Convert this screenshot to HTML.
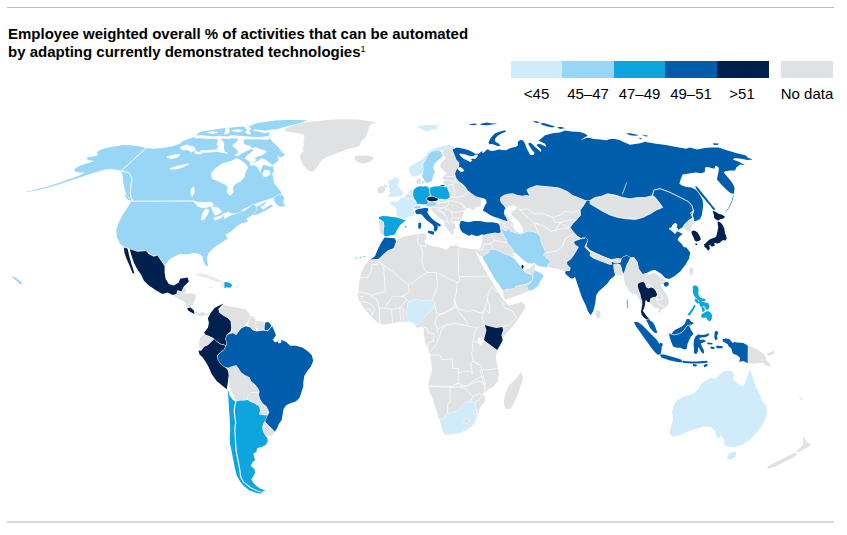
<!DOCTYPE html>
<html lang="en"><head><meta charset="utf-8"><title>Automation potential by country</title>
<style>
html,body{margin:0;padding:0;background:#fff;}
body{width:847px;height:535px;position:relative;overflow:hidden;font-family:"Liberation Sans",Arial,sans-serif;color:#000;}
.rule{position:absolute;left:7px;width:827px;}
#top{top:7px;height:1px;background:#bbbcbf;}
#bot{top:521px;height:2px;background:#d6d7d9;}
h1{position:absolute;left:8px;top:24.6px;margin:0;font-size:15px;line-height:18px;font-weight:bold;letter-spacing:0px;white-space:nowrap;}
h1 sup{font-size:9px;line-height:0;vertical-align:5.5px;font-weight:normal;}
.legend{position:absolute;top:61px;left:511px;height:17px;}
.legend i{position:absolute;top:0;height:16.5px;display:block;}
.lab{position:absolute;top:84.5px;font-size:15px;line-height:17px;white-space:nowrap;transform:translateX(-50%);}
svg{position:absolute;left:0;top:0;}
svg path{stroke:#fff;stroke-width:0.9;stroke-linejoin:round;paint-order:stroke;}
.c1{fill:#d0ebfa}.c2{fill:#99d6f5}.c3{fill:#0ea5de}.c4{fill:#005dab}.c5{fill:#00204e}.nd{fill:#e0e1e3}.nd2{fill:#eaebed}.w{fill:#fff}svg path.line{fill:none;stroke:#fff;stroke-width:0.7;stroke-linejoin:round;stroke-linecap:round}
</style></head><body>
<div class="rule" id="top"></div>
<h1>Employee weighted overall % of activities that can be automated<br>by adapting currently demonstrated technologies<sup>1</sup></h1>
<div class="legend">
<i style="left:0;width:51.4px;background:#d0ebfa"></i><i style="left:51.4px;width:51.6px;background:#99d6f5"></i><i style="left:103px;width:51.2px;background:#0ea5de"></i><i style="left:154.2px;width:51.8px;background:#005dab"></i><i style="left:206px;width:51.5px;background:#00204e"></i><i style="left:270px;width:52px;background:#e0e1e3"></i>
</div>
<span class="lab" style="left:536.5px">&lt;45</span><span class="lab" style="left:588px">45&ndash;47</span><span class="lab" style="left:639.5px">47&ndash;49</span><span class="lab" style="left:691px">49&ndash;51</span><span class="lab" style="left:742px">&gt;51</span><span class="lab" style="left:807px">No data</span>
<svg width="847" height="535" viewBox="0 0 847 535">
<path id="m-centralam" class="nd" d="M173.8 295.1L177.6 290.1L181.3 291.4L183.8 287.1L186.4 288.9L185.1 293.9L191.4 293.1L196.4 295.1L195.1 300.1L192.6 305.1L190.1 307.6L186.4 306.4L183.8 301.4L178.8 298.9L175.1 297.1Z"/>
<path id="m-panama" class="nd" d="M194.6 311.4L198.9 313.1L202.6 312.1L206.4 313.9L208.9 312.6L208.1 315.1L203.9 315.6L200.1 316.4L196.4 315.1Z"/>
<path id="m-cuba" class="nd2" d="M195.1 274.6L200.1 273.1L207.6 274.6L213.9 277.6L220.1 280.1L222.6 282.1L217.6 282.1L211.4 280.1L205.1 277.6L198.9 276.3Z"/>
<path id="m-haiti" class="nd2" d="M220.5 282.7L222.3 284.6L220 286.5L220 286.7L224.8 287.3L224.8 282L220.6 282.4L220.5 282.5Z"/>
<path id="m-puertorico" class="nd2" d="M235.2 286.1L238.9 286.1L238.9 287.6L235.2 287.6Z"/>
<path id="m-jamaica" class="nd2" d="M208.9 286.9L212.6 287.1L212.6 288.4L209.1 288.1Z"/>
<path id="m-venezuela" class="nd" d="M223.6 305.1L227.8 306.1L232.5 307L239.1 307.9L244.8 308.9L247.6 311.7L250.4 315.5L249.5 319.3L246.7 323.1L244.8 325.9L241 327.8L239.1 330.6L236.3 334.4L232.5 332.5L231.2 327.8L230.6 321.2L227.8 318.3L223.1 315.5L219.3 312.7L220.2 308.9Z"/>
<path id="m-guyana" class="nd" d="M250.4 315.5L253.3 316.4L256.1 320.2L255.2 324L257.1 327.8L255.2 330.6L252.3 329.7L250.4 326.8L247.6 324L249.5 319.3Z"/>
<path id="m-suriname" class="nd" d="M256.1 321.2L260.8 321.2L264.6 322.1L264 326.8L262.7 330L258.9 330.6L257.1 327.8L255.2 324Z"/>
<path id="m-ecuador" class="nd" d="M200.4 337.2L204.2 334.4L209.8 336.3L213.6 338.7L210.8 341.9L207.9 344.8L204.2 346.7L201.3 350.4L199.4 347.6L199.1 341.9Z"/>
<path id="m-bolivia" class="nd" d="M228.7 367.8L232.5 365.9L236.3 365.2L238.7 368.4L241 372.2L244.8 375L249.5 377.3L251.4 381.6L255.2 384.4L258 388.2L258.9 392.9L254.2 392.4L250.4 392.9L248.2 395.8L247.6 399.6L243.8 400.5L240.1 400.5L236.3 401.4L234.4 397.7L232.5 392.9L230.6 388.2L229.3 382.6L228.7 375L227.8 370.3Z"/>
<path id="m-paraguay" class="nd" d="M248.2 395.8L250.4 392.9L254.2 392.4L258.9 393.5L260.3 399.6L262.7 403.3L266.5 406.2L268.4 409.9L269 412.8L267.1 415L262.7 414.7L258.9 414.3L260.3 409.9L258.9 406.2L255.2 403.3L250.4 401.4L247.6 399.6Z"/>
<path id="m-uruguay" class="nd" d="M264.6 422.2L269.3 426L273.1 429.8L274.1 432.6L272.2 435.4L268.4 435.8L264.6 434.5L262.7 430.7L262.3 426Z"/>
<path id="m-africa" class="nd" d="M386.3 237.5L393.8 238L396.3 240.5L405.1 236.3L415.1 234.5L421.3 233.8L425.1 233L426.6 237.5L424.1 241.3L426.6 244L432.6 246.3L440.1 247.5L446.4 250L450.1 246.3L456.4 245.5L460.1 247.5L465.1 248L472.7 249.5L480.2 248.8L477.5 249.8L476.3 253.8L479 258.8L481.5 263.8L484 268.2L486.4 272.5L488.9 276.9L491.4 280.7L493.9 285.1L495.9 288.8L498.4 292.6L501 296.3L503.3 299.5L508.9 305.6L515.2 303.8L521.5 302.1L525.7 305.1L524 310.1L520.7 315.1L516.5 321.4L510.2 328.9L503.9 336.4L501.4 342.6L498.2 349.6L496.4 353.8L495.9 357.5L496.4 361.3L498.1 368.8L498.9 375L497.6 381.3L493.9 386.3L487.6 390.1L483.8 393.8L485.1 397.6L484.6 402.6L481.3 405.6L479.6 408.8L478.1 415.1L475.1 421.3L471.3 426.4L466.3 430.1L460.1 433.1L452.6 433.9L445.1 435.1L442.6 431.4L441.3 426.4L439.5 419.6L437.5 413.8L435 406.3L432.5 398.8L429.5 391.3L428 385.1L430 377.5L432 370L431.3 362.5L430 353.8L427.5 347.5L425 341.3L425.1 340.1L423.8 333.9L423.8 328.1L420.6 326.4L417.6 328.1L414.6 325.6L412.1 322.6L405.1 321.4L397.6 322.1L390.1 323.9L381.3 324.6L376.3 321.4L371.3 316.4L366.3 311.3L362.5 306.3L359.5 301.3L357.5 296.3L358.8 288.8L359.5 280.1L361.3 272.6L365 265L370 259.5L375 256.3L377.5 250L381.3 242.5Z"/>
<path id="m-madagascar" class="nd" d="M521.2 372.3L518.7 374.9L514.9 379.9L509.9 384.8L507.3 388.7L504.8 396.2L503.6 403.8L506.1 409L506.4 409.1L510.1 409.1L510.4 409L514.2 402.7L517.9 393.9L522.9 378.9L521.7 372.5L521.6 372.3Z"/>
<path id="m-easteurope" class="nd" d="M442.8 150L446.3 147.5L449.5 147.5L453.2 146L455.1 151.3L460.1 161.3L460.1 171.3L467.6 182.6L477.6 197L467 186.3L468.2 191.3L473.9 195L480.9 197.5L480.9 206.5L475.1 207.3L473.9 210L470.1 210.3L469.1 208.2L467 207.8L464.5 210.7L463.2 213.8L462.6 217.5L461.4 220.8L458.2 221.3L455.1 220.7L453.2 222.6L455.1 225.1L456.3 229.4L455.1 228.2L453.2 230.1L454.1 233.2L452 234.7L450.1 232.6L447.6 229.4L445.1 226.3L444.5 223.2L443.2 220.7L440.1 218.2L436.3 215L433.2 211.9L431.3 209.4L430.1 206.9L427.6 205.7L427.6 198.8L433.8 197.5L445.1 195L445.1 185L443.2 182.5L443.2 185.1L442.8 182.6L443.8 180.1L442.8 177.6L445.1 175.1L446.6 173.2L443.8 170.7L441.3 168.8L440.1 166.3L440.7 163.2L443.2 160.7L445.7 158.2L444.4 155.7L442.8 153.2Z"/>
<path id="m-crete" class="nd" d="M455.1 236.9L458.2 236.6L458.6 237.3L455.3 237.7Z"/>
<path id="m-cyprus" class="nd" d="M471.4 237.8L473.9 236.9L474.1 237.8L472 238.6Z"/>
<path id="m-denmark" class="nd" d="M416.6 179.4L416.2 182.5L416.3 182.8L418.2 184.8L418.6 184.8L420.6 183.2L421.2 180.1L421.2 179.9L419.5 177.9L416.8 179.2ZM421.6 181.4L422 183.6L422.1 183.8L422.3 183.9L424.8 183.4L424.7 181L424.6 180.8L424.4 180.8L421.9 181L421.7 181.1Z"/>
<path id="m-ireland" class="nd" d="M377.8 187.5L377.5 191.9L377.6 192.1L379.8 193.8L380.1 193.8L383.2 192.8L385.3 190.2L385.3 190L384.7 186.8L384.4 186.6L381.1 186L378 187.2Z"/>
<path id="m-belgium" class="nd" d="M406 194.5L409.4 193.8L412.5 195L413.2 197.5L413.2 198.8L410.7 199L406.3 198.5L405 196.3Z"/>
<path id="m-portugal" class="nd" d="M378.8 220.7L381.3 220.3L383.8 222.3L384.1 225.7L383.5 230.1L383.3 234.1L380.6 234.1L379.8 230.1L379.4 225.1Z"/>
<path id="m-mongolia" class="nd" d="M590.1 200.5L595.1 197.5L601.4 196.3L607.6 193.8L615.1 195L622.7 197.5L630.2 198.8L637.7 197.5L645.2 197.5L652.7 195.5L656.4 198.8L660.2 203.8L662.7 207.5L656.4 210L650.2 213.8L642.7 217.5L635.2 219.5L626.4 218.8L617.7 217.5L610.1 215L602.6 211.3L596.4 207.5L590.1 203.8Z"/>
<path id="m-srilanka" class="nd" d="M596.1 310.1L595.8 315.1L597.9 319L598.1 319.2L598.3 319.1L600.8 316.6L600.9 316.3L599.9 311.3L599.7 311.1L596.5 309.9L596.2 309.9Z"/>
<path id="m-png" class="nd" d="M747.2 345.7L747.2 362.7L747.3 362.9L747.5 363L750.9 363L754.6 364L758.5 363L762.1 363L766.8 365.8L770.9 366.8L771 366.6L771 366.4L769.1 362.6L766.3 359.7L765.3 355.9L762.4 353.1L758.6 350.2L752.9 347.3L747.6 345.4L747.3 345.5ZM766.7 353.7L768.7 355.4L769 355.4L774.6 353.2L774.8 353L774.8 352.7L773.8 351.2L773.5 351.1L766.9 353.4Z"/>
<path id="m-nz" class="nd" d="M803.4 436.2L803.4 440.6L803 445L796.8 450.9L798 452.8L804.7 448.4L808.4 447.3L810.7 444L810.6 443.8L806.9 442.7L805.4 439.4L803.6 436.1ZM794.6 452.6L791.3 454.4L772.6 463.7L767 467L767 467.1L768.2 468.7L773.7 467.2L787 460.5L792.5 458.3L797.4 454.5Z"/>
<path id="m-newcal" class="nd2" d="M798.6 395.3L802.4 398.6L803.5 400.8L800.2 399.3Z"/>
<path id="m-centralasia-mideast" class="nd" d="M545.9 181.3L535.1 184.4L527.6 186.9L525.1 190L527.6 193.8L521.3 194.4L512.6 191.9L505.1 193.2L500.1 196.3L498.8 200L500.7 203.8L502.6 206.3L498.8 212.6L495.1 215.7L496.3 218.8L498.2 220L499.4 221.9L492.5 227.5L484.4 234.8L482.5 235L482.5 240L481.5 245L479.8 248.5L477.8 249.8L476.9 251.9L479.4 255L482.5 257.3L484.4 260.7L486.9 265L489.4 269.4L491.9 273.8L494.4 278.2L496.9 281.9L499.4 285.1L501.3 288.2L503.5 290.7L503.2 293.8L504 297.6L505.7 300.1L510 298.2L515.1 296.3L520.1 294.4L525.1 292.6L528.6 290.7L531.9 290.1L535.1 288.2L538.2 285.7L539.5 282.6L541.3 279.4L543.6 276.3L542.6 274.4L539.5 272.5L536.3 271.3L534.5 270L535.1 266.3L534.5 264L532.6 266L530.1 267.8L526.9 269.4L525.1 271.3L523.8 271.3L523.6 268.5L523.2 266.3L521.9 265L520.1 265.7L519.4 265L516.9 261.9L514.4 258.8L512.6 256.5L513.2 253.8L515.1 253.1L518.2 255L521.3 258.2L524.4 260.7L528.2 263.2L532.6 263.5L534.5 262.3L536.3 265L540.1 266.3L543.8 266.9L547 267.3L550.1 267.6L557.6 268.8L565.1 271.4L575.1 267.6L590.1 247.6L590.1 200.5L586.4 197.5L578.9 195L572.6 192.5L567.6 188.8L558.8 185L547.6 183.7L533.8 182.5Z"/>
<path id="m-seasia-grey" class="nd" d="M590.1 251.3L601.4 253.8L612.6 257.6L626.4 254.6L633.9 256.3L640.2 260.1L647.7 267.6L648.2 274.5L651.3 273.5L654.4 273L656.9 274.3L659.4 276L661.9 278L665 279.3L666.3 280.8L663.8 282L662.5 284.5L660.7 283.9L661.3 287L663.8 290.2L666.3 293.9L668.2 297.7L668.8 302L667.6 305.8L664.4 308.3L661.3 310.2L659.4 313.3L658.2 312.1L658.8 308.9L656.9 307.7L655 308.3L652.5 305.8L650.7 303.3L649.4 302L645 300.8L642.5 304.6L641.9 305.2L640.6 303.3L639.4 299.5L637.5 295.8L634.4 293.9L631.3 293.3L628.8 290.8L626.9 287L625 284.5L623.2 273.9L620.2 275.6L615.1 271.4L610.1 262.6L600.1 260.1L591.4 257.6Z"/>
<path id="m-taiwan" class="nd" d="M689.4 269.5L689.7 273.5L691 275.4L691.2 275.5L691.5 275.5L691.7 275.3L693 272.7L693.2 268.9L693.1 268.6L691.6 267.3L691.3 267.2L691 267.4L689.5 269.3Z"/>
<path id="m-etimor" class="nd" d="M707.7 363.1L712.1 361.6L712.3 362.6L708.3 364.1Z"/>
<path id="m-greenland" class="nd" d="M283.8 129.5L288.8 127.6L295 125.1L302.5 123.3L311.3 121.8L320.1 120.8L330.1 119.8L340.1 119.3L350.1 119.3L360.1 119.8L367.6 120.8L375.9 122.6L370.1 124.5L368.9 128.3L367.6 132L366.4 135.8L363.9 138.9L360.7 142L360.1 145.2L356.4 147L351.3 148.3L346.3 149.5L341.3 151.4L336.3 153.3L331.3 155.2L326.3 157.1L322.6 159.6L319.4 163.3L316.9 167.1L314.4 170.2L311.9 171.8L308.8 170.8L305.7 168.3L303.2 165.2L301.3 161.4L300 157.1L301 153.3L303.8 150.8L302.5 148.3L304.4 145.2L303.2 142L304.4 138.3L303.8 135.2L300 133.3L293.8 132.6L287.5 132Z"/>
<path id="m-iceland" class="nd" d="M354.2 157.2L355.6 160.4L358.8 162.4L363.2 163.4L367.7 162.4L372.1 160.5L373.5 157.8L373.5 157.6L373.4 157.4L368.8 155.5L362.6 156.1L357.6 155.5L354.4 156.8L354.2 156.9Z"/>
<path id="m-afrbordersn" class="line" d="M378.3 260.7L378.3 264.2L372.1 264.8L371.3 271.3L367.7 277.5L358.9 278M379.2 261.6L383.6 267.2L385.4 291.7L371.3 295.2M379.2 261.6L394.3 273.1L408.4 284.6L412 282.8L420.8 276.6L427 272.5M418.2 235L417.3 242.1L420.8 245.6L422.6 252.7L421.7 259.8L423.5 267.8L427 272.5M420.8 245.6L425.3 247L425.8 243M427 272.5L436.2 272.5L457.1 282.5M458 248.3L458.9 276.6M457.1 282.5L459.4 281.4L459.4 276.6L488.1 276.1M436.2 272.5L437.7 286.4L434.7 294.3L431.8 300.2M408.4 284.6L409.3 291.7L403.1 296.1L399.6 297L397.8 296.1L391.6 297L389.8 300.5L387.2 304.1M403.1 296.1L406.7 299.6L408.4 301.9M457.1 282.5L456.3 293.4L454.5 298.8L456.3 305.8L459.8 309.4M434.7 305L436.8 313.8L443.9 313.8L451.8 309.4L456.3 305.8M459.8 309.4L466.9 311.5L474 310.3L481.1 313.3L485.5 309.4L489 312.9M488.1 295.2L489.9 289.9L491.7 287.2L496.1 291.7L499.8 293.4M489 312.9L489.9 305.8L487.2 300.5L488.1 295.2M358.9 291.7L369.5 294.3L371.3 296.1M359.7 296.1L363.3 297L360.6 299.1M360.6 301.4L367.7 302.3L373 305.8L374.8 309.4L372.1 314.7M366.8 309.4L369.5 308.5L372.1 314.7M371.3 296.1L376.6 298.8L379.2 307.6L380.1 323.5M379.2 307.6L385.4 308.5L391.6 309.4L400.5 307.6L406.7 299.6M391.6 309.4L392.5 322.7M399.9 307.6L400.5 320M403.1 307.6L403.5 319.7M385.4 308.5L387.2 304.1"/>
<path id="m-afrbordersc" class="line" d="M454.5 300L453.6 307.1L448.3 310.3L442.1 313.8L436.3 316.8L435.1 323L437.7 329.2L436.8 331.9M437.7 329.2L446.2 324.8L455.4 323.4L464.3 325.1L473.1 326.9L476.7 328L484.6 324.8M454.5 300L457.5 309.7L463.4 317.7L467.8 323.9M484.6 324.8L482 317.7L483.8 310.6L486.4 303.5L488.2 300M501.5 326.9L508.5 324.8L516.5 317.7L512.1 310.6L505 308L502.3 305.3L503.2 301.8M476.7 328L474 335.4L473.1 341.6L478.4 342.5M472.2 342.5L473.1 351.4L471.4 353.1L473.1 360.2L476.7 363.8L480.2 364.6M485.2 341.1L481.1 342.5M481.1 370L490.8 369.4L498.8 368.2M446.6 324.8L441.6 329.2L439.8 336.3L435.9 345.2L431 351L428.9 353.1M421.8 326.6L427.1 328.3L428 332.8L434.2 333.6L433.3 341.6L428.9 342.5L428 347.8M429.7 354.9L439.5 354.9L442.1 359.7L451.9 358.8L452.9 368.5L458.3 368.5L458.3 373L463.4 371.7L470.1 370.8L472.4 374L471.4 368.2L470.3 363L473.1 361.1L479.3 364.6M458.3 373L458.1 383.2L452.8 385.4M428 385.9L452.8 386.4L458.1 383.2L466 387.1L473.1 381.5L478.4 377.9L481.6 376.5M481.1 366.4L482.9 374.4L485.5 383.2L483.8 385.4L482 377.9L480.2 370.8"/>
<path id="m-afrborderss" class="line" d="M428 386.3L453.8 387.6L460.1 386.3L470.1 385.1M450.1 388.1L450.1 402.6L447.6 403.8L447.6 413.8M460.1 387.1L465.6 388.8L472.6 396.3L470.6 401.3M472.6 396.3L480.1 393.8L483.8 393.8M475.1 402.6L480.1 398.8L483.8 393.8M470.6 385.1L475.1 382.6L480.1 381.3L485.1 383.8L484.1 393.8"/>
<path id="m-eurborders" class="line" d="M449.8 196.9L455.1 197.5L462.6 196.3L468.2 191.9M437.6 200.6L440.1 202.5L445.1 202.3L448.8 200.6L455.1 201.3L461.4 203.8L465.1 206.9M448.8 201.3L447.6 205.7L444.5 207.5L440.1 208.2L436.3 207.3L430.7 206.8M436.9 203.5L440.1 202.8L445.1 202.5M451.3 211.9L456.3 212.3L462.6 211.3L464.5 210.7M452.6 217.5L456.3 218.2L460.1 217.5L461.4 220.8M448.2 209.4L451.3 211.9L452 215L452.6 217.5L450.7 220L453.2 222.6M436.3 210L440.1 211.3L443.8 212.5L445.1 215.7L447 217.5L447.6 221.3L450.1 223.2L453.2 222.6M444.5 207.5L446.3 210L448.2 209.4M440.1 208.2L439.5 210.7L443.2 213.2L445.1 215.7M443.2 220.7L445.7 221.3L447.6 221.3M461.4 203.8L463.2 205.7L464.5 208.2M446.3 176.1L451.3 176.6L455.3 175.7M443.2 180.3L448.8 180.7L453.2 181.3L455.7 179.8M448.2 185.1L452.6 184.4L455.1 181.9L458.8 181.9M452.6 184.4L453.2 188.8L455.1 192.6L454.5 197"/>
<path id="m-asiaborders" class="line" d="M505 208.8L513.8 205L520 210L527.5 208.8L533.8 213.8L543.8 213.8L552.6 217.5L560.1 215L565.1 211.3L573.8 212.5L580.1 210M520 210L533.8 222.5L543.8 226.3L551.3 231.3L555.6 230.1L560.1 222.5L570.1 220L576.4 220M551.3 231.3L562.6 228.8L570.1 227.6L575.1 232.6L565.1 238.8L562.6 246.3L557.6 250.6L547.1 252.6M560.1 222.5L565.1 226.3L570.1 227.6M552.6 217.5L555.6 222.5L560.1 222.5M533.8 222.5L538.8 233.8M499.4 221.9L503.2 223.5L507.6 221.9L509.1 220M503.2 223.5L504.4 226.3L508.8 227.8M507.6 221.9L510.1 224.4L513.8 226M491.3 235L495 240L490.6 243.8L483.8 244.4L481.9 242.5M490.6 243.8L493.8 249.4M483.8 244.4L482.5 249.4L477.8 249.8M495 240L501.3 241.9L507.5 242.8M643.8 282L646.3 285.8L650 284.5L653.8 288.9M653.8 288.9L657.5 290.8L661.3 294.5L662.5 298.3L660.7 299.5L656.9 299.5L655.7 296.4M656.9 299.5L658.8 304.6L662.5 305.8L664.4 308.3M626.4 266.3L630.2 260.1L633.9 257.6"/>
<path id="m-alaska" class="c2" d="M146.4 148L138.9 146.3L130.2 145.3L122.6 145L113.9 146.5L106.4 148L99.6 150L96.6 152.6L98.1 155.1L93.1 156.6L86.6 157.6L87.6 160.1L94.6 161.1L86.4 163.6L80.6 165.6L75.1 168.6L74.3 171.6L79.6 172.6L85.1 172.6L79.6 175.6L72.6 177.8L60.1 182.6L47.6 186.6L35 189.8L21.3 192.8L35 190.8L47.6 187.8L60.1 184.1L72.6 179.8L82.6 176.6L91.4 173.6L98.9 171.3L105.1 169.6L111.4 169.1L117.6 170.1L121.4 170.8L122.6 175.6L123.4 182.6L124.6 189.6L127.1 196.4L130.7 201.9L132.7 200.6L130.2 193.8L131.2 185.1L131.9 177.6L128.9 172.6L123.9 171.3L121.6 170.6Z"/>
<path id="m-canada" class="c2" d="M146 148L155 148.8L165 147.5L172.5 146.3L180 143.8L182.6 141.3L188.8 138.8L196.3 136.3L198.1 133.1L202.5 131.3L207.5 130.6L212.5 130L217.5 129L225 127.9L232.5 127.5L236.3 126.9L241.3 126.5L245.1 126.9L250.1 126.3L252.6 124.8L257.6 123.1L265.1 121.9L275.1 120.6L285.1 120L295.1 120L302.6 120.1L308.3 120.8L303.9 121.8L300.9 122.8L295.1 124.4L290.1 125.6L282.6 127.5L275.1 129.8L270.1 131.9L268.8 134.4L270.1 138.2L272.6 141.9L277.6 146.3L281.4 151.3L285.1 155L281.4 157.6L277.6 156.3L278.8 160.1L275.1 163.2L272.6 165.1L273.2 167.6L273.8 171.3L272.2 173.8L273.2 178.8L274.2 183.8L277.7 187.6L281.4 192.6L280.2 196.4L275.2 196.9L267.7 199.4L260.1 201.9L252.6 205.1L247.6 206.9L241.4 210.1L243.9 211.1L250.1 208.9L257.6 206.4L262.6 203.4L267.1 201.6L263.9 205.1L260.1 207.1L263.1 209.6L267.7 206.4L270.7 204.6L273.2 206.1L266.4 210.1L258.9 213.9L253.1 215.6L254.1 212.1L250.1 213.1L247.6 213.6L246.4 210.1L242.6 212.1L238.9 213.1L232.6 213.6L228.9 213.1L225.1 215.1L221.3 217.6L215.1 220.1L214.1 216.4L212.6 211.4L211.3 206.4L212.6 203.1L205.1 202.6L198.8 203.1L193.8 201.4L140 200.9L132.2 201.4L130.2 193.8L131.2 185.1L131.9 177.6L128.9 172.6L123.9 171.3L121.6 170.6Z"/>
<path id="m-newfoundland" class="c2" d="M273.6 198.2L274.4 201.4L276.2 204.1L280.2 206.7L284.7 205.9L284.9 205.7L284.9 205.5L283 202.1L284.2 197.7L284.2 197.4L281.6 194.4L281.3 194.3L277.5 195.4L273.7 197.9Z"/>
<path id="m-vancouver-i" class="c2" d="M124.6 193.8L127.7 196.4L130.7 200.6L128.2 200.1L125.6 197.1Z"/>
<path id="m-usa" class="c2" d="M131.3 201.3L193.9 201.3L196.4 202L205.1 202.5L212.6 204.5L217.6 206.3L220.1 210L222.6 215L225.1 218.8L228.9 216.3L236.4 213.5L243.9 211L248.9 208L252.7 204L256.4 206.5L255.7 212L250.7 216L246.4 218.8L248.2 221.5L240.7 223.8L236.7 226.5L232.7 230L229.2 232.5L225.6 235L227.7 238.8L223.1 241.6L217.6 245.1L212.6 248.8L209.1 252.6L206.6 257.6L207.6 262.6L208.1 266.6L205.4 265.3L203.1 260.6L202.6 256.3L198.9 253.8L192.6 253.1L186.4 254.6L180.1 253.8L175.1 256.3L170.1 258.8L166.1 263.8L164.6 265.6L161.3 260.6L157.6 255.1L153.8 256.3L148.8 253.8L146.3 250.6L137.5 251.3L123.8 247.1L120 243.8L117 237.6L116.3 230L118.8 222.5L122.5 215L127.5 207.5Z"/>
<path id="m-hawaii" class="c2" d="M11.8 276L14.4 279.2L17.9 281.7L19.9 284.2L20.1 284.2L22.2 283.7L22.2 283.4L20.7 281.4L18.1 279.4L15.1 277.4L12.1 275.9Z"/>
<path id="m-mexico" class="c5" d="M129.5 248.3L137.5 251.3L146.3 250.6L148.8 253.8L153.8 256.3L157.6 255.1L161.3 260.6L164.6 265.6L164.6 272.6L165.6 278.8L168.8 283.9L173.8 285.6L178.8 282.6L180.1 278.8L187.6 277.6L188.9 281.4L183.8 286.4L181.3 291.4L177.6 290.1L176.3 293.9L172.6 295.1L167.6 292.6L162.6 293.9L156.3 290.6L148.8 285.6L143.8 280.6L141.3 275.1L137 268.8L133.8 262.6L131.3 255.1L129.5 248.3ZM123.8 247.1L127.5 248.3L129 255.1L131 262.6L133 268.8L134.5 273.8L132.5 273.1L129.5 265.6L126.5 258.8L124.5 253.1Z"/>
<path id="m-costarica" class="c5" d="M187.1 308.1L190.6 307.6L193.9 310.6L194.6 313.9L191.4 312.6L188.1 310.6Z"/>
<path id="m-domrep" class="c3" d="M224.4 282.1L224.4 288.1L224.6 288.3L226.4 287.3L230.1 287.8L230.3 287.7L232.3 285.2L232.3 284.9L228.9 282.4L224.7 281.9Z"/>
<path id="m-colombia" class="c5" d="M223.6 303.6L221.2 306.1L218.3 308.9L219.3 312.7L223.1 315.5L227.8 318.3L230.6 321.2L231.2 327.8L230.6 331.6L226.8 334.4L225.5 339.1L226.8 342.9L225.9 345.7L224 344.8L220.2 343.8L216.4 341L213.6 338.2L209.8 336.3L205.1 334.4L204.2 332.5L207.9 327.8L208.9 323.1L207.9 318.3L210.8 312.7L214.6 307.9L218.3 306.1Z"/>
<path id="m-frguiana" class="c4" d="M265.2 322.5L268.4 322.1L271.2 324.9L270.3 327.8L267.4 330.6L264.6 330L264.6 326.8Z"/>
<path id="m-peru" class="c5" d="M198.5 350.4L201.3 350.8L204.2 346.7L207.9 345.2L211.2 341.9L214.2 339.1L216.4 341.4L220.2 344.2L224.4 345.2L225.9 346.3L224 349.5L220.2 352.3L217.4 355.2L218 359.9L221.2 363.7L224.9 366.5L227.8 370.3L228.7 375L227.8 382.6L226.8 389.2L222.1 385.4L216.4 380.7L211.7 374.1L207.9 365.6L203.2 358L199.4 354.2Z"/>
<path id="m-brazil" class="c4" d="M226.8 335.3L232.5 333.1L236.3 335L239.5 330.6L241.4 328.2L245.7 326.3L250.4 327.4L252.3 330L255.5 331.2L258.9 331.2L263.7 330.6L267.8 331.2L270.9 327.8L272.2 325.9L274.1 330.6L276 335.3L273.1 339.5L276 341.4L280.7 339.5L286.3 341.9L290.1 345.7L295.8 345.7L302.4 347.6L308.1 351.4L311.8 355.2L313.2 360.8L310.9 366.5L307.1 371.2L304.3 376L303.3 382.6L303.3 386.3L301.5 392L299.6 397.7L295.8 401.4L290.1 403.3L286.3 405.2L283.5 409L282.6 414.7L281.6 420.3L278.8 424.1L276.9 428.8L274.6 431.7L273.1 429.8L269.3 426L265.6 422.2L264.6 419.4L267.4 415.6L269.3 412.8L268.4 409.9L266.5 406.2L262.7 403.3L260.3 399.6L258.9 394.8L259.5 391.1L258 388.2L255.2 384.4L251.4 381.6L249.5 377.3L244.8 375L241 372.2L238.7 368.4L236.3 365.2L232.5 365.9L228.7 367.8L224.9 367.1L221.2 364L218.3 360.3L217.8 355.7L220.2 352.7L224 350.1L225.9 346.7L227 343.3L225.9 339.5Z"/>
<path id="m-argentina" class="c3" d="M236.3 401.4L240.1 400.5L243.8 400.5L247.6 399.9L250.4 401.8L255.2 403.7L258.9 406.5L260.3 410.3L258.9 414.3L262.7 415L267.1 415.4L265.6 419.4L264 422.2L262.3 426L262.7 430.7L264.6 434.5L267.4 438.3L267.8 441.5L265.6 445.1L261.8 447L257.1 447.9L256.5 451.7L253.3 453.6L254.2 457.4L255.2 459.8L252.3 462.5L250.8 465.9L254.2 468.7L255.2 472.5L253.3 476.3L251.4 479.5L253.3 482.9L256.1 485.7L259.9 488.6L265.6 490.4L261.8 492L256.1 490.1L251.4 487.6L247.6 484.8L243.8 481.4L241.4 477.2L240.6 471.6L239.5 464.9L238.2 458.3L236.8 451.7L236.3 445.1L235.9 437.6L235.3 430L236.3 422.2L235.3 416.6L234.8 410.9L235.3 406.2Z"/>
<path id="m-chile" class="c3" d="M227.8 389.2L229.7 395.8L232.5 399.6L235.3 401.8L234.2 406.2L233.6 410.9L234.2 416.6L235.1 422.2L234.2 430L234.8 437.6L235.1 445.1L235.7 451.7L237 458.3L238.4 464.9L239.5 471.6L240.2 477.2L242.7 481.8L246.5 485.2L250.4 488.2L255.7 490.8L261.8 492.7L265.6 490.8L260.8 493.7L256.1 492.7L249.5 490.4L243.8 486.1L240.1 481.4L236.8 475.7L235 469.1L233.8 462.5L232.5 455.9L231.2 449.3L230 443.6L229.7 437.9L230.2 430.4L230 424.5L229.7 417.5L229.1 410.9L228.7 403.3L228.3 396.7L227.8 392Z"/>
<path id="m-morocco" class="c4" d="M384.6 237.5L394.6 238.3L396.1 241.3L393.8 248L387.6 250.5L382.6 255L378.8 258.8L370.5 259.5L375 256.3L377.5 250L381.3 242.5Z"/>
<path id="m-nigeria" class="c1" d="M408.1 302.6L411.3 300.6L417.6 300.1L425.1 300.8L432.1 300.6L435.1 302.6L433.1 307.6L430.1 311.3L426.4 315.1L423.1 318.9L419.6 323.1L415.1 325.1L412.6 322.6L407.6 320.6L406.3 315.1L407.6 308.8Z"/>
<path id="m-kenya" class="c5" d="M484.7 325.1L490.2 326.4L496.4 328.1L502.2 327.1L503.2 330.1L501.4 335.1L502.7 340.1L500.2 345.1L497.2 350.1L493.9 347.6L487.7 343.1L483.9 340.1L485.2 335.1L486.4 330.1Z"/>
<path id="m-southafrica" class="c1" d="M439.5 419.6L443.8 418.8L447.6 413.8L452.6 412.6L456.3 411.3L460.1 408.8L462.6 405.1L467.6 402.1L472.6 401.3L475.1 402.6L475.8 408.8L477.6 412.6L478.1 415.1L475.1 421.3L471.3 426.4L466.3 430.1L460.1 433.1L452.6 433.9L445.1 435.1L442.6 431.4L441.3 426.4Z"/>
<path id="m-canary" class="c3" d="M355.5 257.8L356.8 257.5L356.8 258.5L355.5 258.5ZM359.5 257.3L360.8 257L360.8 258L359.5 258ZM363.3 256.5L364.8 256.3L364.8 257.3L363.3 257.3Z"/>
<path id="m-russia" class="c4" d="M452.5 149.4L456.9 147.5L462.5 148.5L468.2 150L472.5 151.9L475 153.8L478.8 153.8L480.7 151.9L482.5 151L482.2 153.1L484 152.5L486.3 150L488.2 149L489.1 150.6L491.9 151L495.1 150.6L498.8 149.4L502.6 150L506.3 150.3L508.8 148.8L512.6 147.5L515.7 146.9L518.2 145L517.6 141.9L520.1 140L523.2 140.6L525.1 143.8L526.3 147.5L528.2 151.3L530.1 155L533.9 155L534.5 152.5L532 150L530.1 146.9L528.2 143.8L530.1 142.5L532.6 144.4L535.1 146.9L538.2 149.4L540.7 151.9L541.4 150L538.9 147.5L536.4 145L538.9 143.8L542.6 145L546.4 146.9L545.1 143.8L541.4 141.9L538.2 140.6L540.1 139.4L545 135.2L552.5 133.3L560 132.6L565 130.5L571.3 131.4L580 132L585.7 133.9L587.6 135.8L583.2 138.3L580.7 140.2L586.9 137.7L590.1 138L593.8 138.9L600.1 139.5L606.3 140.2L610.1 138.9L615.1 138.9L620.1 140.2L625.1 142.7L630.1 144.8L635.1 143.9L640.1 143.3L645.9 141.4L646 142L656 143.8L666 145L676 147L686 148.8L689.8 147.5L697.2 149.5L704.8 148L711 147.5L718.5 147.5L726 150L736 153L746 155.5L747.6 157.5L752.6 159.4L747.6 160L741.3 158.8L735.1 158.1L732.6 159.4L737.6 161.3L745.1 165L740.1 164.4L736.3 167.5L735.1 170.6L730.1 170.6L725.1 171.3L723.8 172.5L727.6 176.9L732 182.5L734.5 187.5L734.1 193.8L730.7 193.2L726.3 189.4L721.3 184.4L716.9 179.4L717.8 175L718.8 170L718.8 167.5L715.7 165.6L714.4 168.8L707.6 166.9L705.1 167.5L704.8 171.9L701.3 173.2L695.7 172.5L688.8 173.5L682.5 174.4L680.6 179.4L679.4 183.8L682.5 185.7L686.3 186.9L691.3 187.5L696.3 190L700 195.1L702.6 200.1L703.2 205.1L702.6 210.1L701.9 215.1L700 219L696 221L688 220.5L686 214L686 208L680 203L670 198L660 194L653 196L652.7 195.5L645.2 197.5L637.7 197.5L630.2 198.8L622.7 197.5L615.1 195L607.6 193.8L601.4 196.3L595.1 197.5L590.1 200.5L586.4 200.5L578.9 197.5L572.6 195L567.6 191.3L558.8 187.5L547.6 186.3L533.8 185L540.1 183.8L535.1 185.7L530.1 187.5L526.4 189.4L527.6 192.5L529.5 195.7L526.4 195L522.6 195.7L517.6 195L512.6 193.2L507.6 193.8L503.8 195L500.7 196.9L499.8 200L501.3 203.2L503.8 205.7L505.7 208.2L504.5 210.7L503.8 213.8L505.7 216.9L507.6 220.7L507 221.3L503.2 220.1L498.8 218.2L494.4 216.9L490.1 215.1L486.3 212.6L483.2 210.7L482.6 208.8L484.4 205.7L486.6 203.2L486.3 200L483.8 198.2L480 197.5L475.7 196.3L471.3 193.2L467.5 190L465.7 186.9L462.5 183.8L458.8 181.3L456.3 178.1L455 173.8L456.3 170L458.8 167.5L459.4 163.8L457.5 160L457.5 161.9L455.6 157.5L453.8 153.1Z"/>
<path id="m-sakhalin" class="c4" d="M695.4 186.4L696.1 188.4L699.8 193.4L704.8 199.6L709.8 205.3L712.9 209.6L713.2 209.7L715.3 209.7L715.4 209.5L715.3 209.3L697.8 187.4L695.8 186L695.6 186L695.4 186.1Z"/>
<path id="m-wrangel" class="c4" d="M713 143.2L718.5 143.5L718 145L713.5 144.8Z"/>
<path id="m-kaliningrad" class="c4" d="M440.3 185L444.5 185L444.8 186L440.6 186.1Z"/>
<path id="m-norway" class="c1" d="M409.2 167.3L409.1 167.6L409.7 172.6L411.8 176L415.2 176.8L418.3 175.3L421.4 174.1L422.8 171.3L424.1 163.3L426 160.1L428.4 154L431.5 151.5L435.1 149.7L438.9 150.9L442.9 150.3L446.4 147.8L449.6 147.8L453.3 146.3L453.5 146.1L453.5 145.9L453.3 145.7L448.9 145L443.8 145.7L435 148.5L431.2 150L428 152L426.1 155.5L423.6 157.9L419.9 161L416.1 162.9L411.8 165.4Z"/>
<path id="m-sweden" class="c2" d="M428.8 153.8L431.3 151.9L435.1 150.6L438.8 150.6L441.3 152.5L442.6 155.7L440.7 158.2L438.2 160L435.1 163.2L433.2 166.3L433.8 170L435.1 172.6L433.2 175.1L432.6 178.2L431.9 180.7L429.4 181.9L426.9 183.2L425 181.3L423.2 178.2L421.9 175.7L423.2 173.2L423.5 168.8L423.2 165L423.8 162.8L425.7 160.7L426.9 157.5Z"/>
<path id="m-uk" class="c1" d="M389.7 179.8L387.8 182.3L387.7 182.5L387.9 182.8L389.5 184.5L388.4 186.9L390.2 188.8L389 191.1L389 191.4L389.2 191.6L391.2 192.6L389.7 194.2L388.4 196.7L388.4 197L388.5 197.2L388.8 197.3L396.3 196.7L400.1 196L402.8 194.1L402.9 193.7L402.3 191.2L399.7 188.5L397.9 186.1L396.6 182.2L394.1 179.7L393.8 179.6L390 179.6ZM384 185.1L384.6 187.1L384.8 187.4L385.1 187.4L387.1 186.9L387.4 186.7L387.4 186.4L386.9 184.6L386.7 184.4L386.5 184.4L384.3 184.6L384.1 184.8ZM392.1 179.3L392.7 182.6L394.7 185.3L394.9 185.5L395.2 185.4L397.7 184.2L397.9 183.9L399.1 180.2L399 179.8L396.5 177.3L396.1 177.2L392.3 179.1Z"/>
<path id="m-france" class="c1" d="M390 202.5L393.8 201.3L396.9 201.9L398.8 200L400.7 198.1L403.8 196.9L406.3 198.5L410.7 199L413.2 198.8L414.4 200L416.3 201.5L416.9 204L414.8 205.4L414.4 206.9L413.2 209.4L414 212.5L415 215L412.5 216.5L409.4 216.3L406.9 217.5L404.4 218.8L400 217.5L396.5 216.3L396.9 212.5L396.3 208.8L393.8 206.3L390.6 204.4ZM419.1 217.5L420.3 217.3L420.7 220L419.8 221.9L418.8 220.7Z"/>
<path id="m-netherlands" class="c1" d="M408.5 191.5L410.7 190L413.2 190.3L413.4 193.1L412.5 195L409.4 193.8L407.8 193.5Z"/>
<path id="m-germany" class="c3" d="M413.8 189.4L416.3 187.5L419.4 186.3L423.2 186.5L426.9 186.3L428.8 188.1L429.4 191.9L430.1 195L427.6 197.5L426.6 200L428.2 202.5L426.9 204L423.2 204.4L419.4 203.8L416.9 204L416.3 201.3L414 198.8L413.2 195.6L413.2 192.5Z"/>
<path id="m-poland" class="c3" d="M430.1 187.8L433.8 186.5L438.8 186.3L443.2 186.5L447 187.5L448.2 190.6L449.5 194.4L449.8 196.9L447.6 198.8L445.1 199.4L441.3 198.8L438.2 198.8L435.1 197.5L431.9 196.3L430.3 193.8L429.8 190.6Z"/>
<path id="m-czech" class="c5" d="M426.6 198.1L428.8 196.9L431.9 196.5L435.1 197.5L438.2 198.8L437.6 200.3L435.1 201L431.9 201.5L429.4 201L427.3 200Z"/>
<path id="m-austria" class="c2" d="M426.9 204L428.8 202.8L431.9 202L435.1 201.9L436.9 203.2L436.1 205L433.8 206.3L430.7 206.5L428.2 206L425.7 205.7Z"/>
<path id="m-switzerland" class="c2" d="M414.4 206.5L416.9 205.7L419.4 205.7L421.1 206.9L419.4 208.5L416.3 208.5L414.4 208.2Z"/>
<path id="m-italy" class="c4" d="M415.1 210.7L415.8 213.6L416 213.8L418.2 214.3L420.6 214L422.4 215.2L424.3 217.7L426.8 220.2L432.4 224.6L434.2 227L433.6 229.6L434.9 231.7L435 231.8L435.2 231.8L437.2 230.1L437.8 227.6L437.3 225.5L439.3 226.5L439.6 226.5L440.9 225.5L441 225.3L440.9 225.1L439 223.6L435.8 221.7L432.7 219.2L430.3 216.8L428.4 214.3L427.2 211.9L428.4 210.2L428.4 210L427.7 208L424.4 207.9L417.5 209.2L415.2 210.4ZM428 230.9L427.9 232.6L428.1 232.8L430.6 234.1L433.5 234.7L433.8 234.5L434.3 232L434.1 231.7L431.3 231.1L428.2 230.8ZM418.3 223.2L418.3 228.2L418.5 228.4L420.1 229L421.3 226.3L420.9 222.8L420.6 222.6L418.5 222.9Z"/>
<path id="m-spain" class="c3" d="M378.8 216.9L382.5 216L387.5 216.3L392.5 216.9L396.9 217.5L401.3 219L405.7 220.3L403.2 222.6L400 225.1L398.2 228.2L396.3 231.3L395 234.4L391.3 235.3L387.5 236.1L385 236.6L383.5 234.4L383.8 230.1L384.4 225.7L383.8 221.9L381.3 220L379 218.8ZM405 226.3L406.5 226.1L406.5 227.3L405 227.6Z"/>
<path id="m-china" class="c4" d="M586.4 200.5L583.9 205L580.1 210L580.6 215L576.4 220L572.6 223.8L570.1 227.6L573.8 232.6L577.6 236.3L581.4 238.8L584.6 238.1L587.6 241.3L586.4 246.3L590.1 250.1L595.1 253.1L601.4 255.6L607.6 258.1L612.6 259.6L620.2 259.1L626.4 255.6L630.2 257.6L633.9 257.1L637.7 262.1L638.9 268.8L642.7 273.9L647.7 272.6L651.4 270.6L655.2 270.1L661.5 273.9L665.2 278.1L669 278.9L674 276.4L680.2 271.4L685.2 265.1L689 258.8L690.2 252.6L686.5 247.6L683.5 247L682 244.2L679.6 241.9L677.7 239.9L678.2 238L680.6 235.6L682.8 233.9L678.8 232.1L677.9 230.9L678.8 229.5L681.2 227.9L683.5 226.6L686.7 222.7L691 219.3L693 217.6L692.2 215.2L690.2 213.2L691 212.5L693.7 210.9L691.5 216.3L693.2 210L691.5 205L687.7 201.3L680.2 197.5L670.2 192.5L660.2 188.8L653.9 190L652.7 195L656.4 198.8L660.2 203.8L662.7 207.5L656.4 210L650.2 213.8L642.7 217.5L635.2 219.5L626.4 218.8L617.7 217.5L610.1 215L602.6 211.3L596.4 207.5L590.1 203.8L590.1 200.5Z"/>
<path id="m-japan" class="c5" d="M712.7 211.4L714 215.1L714 217.5L714.1 217.8L716.2 219.8L718 220.5L718.4 220.4L720.2 219.2L723.3 218.6L724.8 217.2L724.9 216.9L724.7 216.5L722.2 214.7L719 214L715.9 212.1L713.4 210.9L713 210.8L712.8 211.1ZM717.7 221.9L717.7 224.4L718.3 226.9L717.7 230.6L716.2 236.6L714.3 237.8L711.7 238.4L709.2 239.7L705.3 243.5L705.2 243.8L705.3 244.1L705.5 244.2L707.5 244.9L710.6 245.5L710.9 245.5L713.4 244.2L715.1 242.8L716.7 243.6L717 243.6L719.5 243L721.6 241L723.3 239.9L724.9 240.5L725.4 240.4L726.6 239.1L726.8 238.7L726.1 236.2L724.9 232.4L724.3 228.7L723 225.5L720.9 222.8L718.4 221.5L718.1 221.5L717.8 221.6ZM710.3 245.1L711.8 246.7L714.6 245.7L714.8 245.5L714.8 245.1L714.2 243.9L714 243.6L713.7 243.6L710.6 244.4L710.3 244.5L710.2 244.8ZM704 244.5L704.6 247L704.8 247.3L706.6 248.5L707.8 250.3L708.1 250.5L708.5 250.4L709.7 249.1L709.9 248.7L709.5 246.2L709.3 246L707.2 244.1L706.9 244L704.4 244L704.1 244.2Z"/>
<path id="m-australia" class="c1" d="M669.3 432.9L671 426.2L673.2 419.6L672.1 411.9L673.7 405.3L676.6 400.8L682.1 397.5L688.7 395.3L694.2 393.1L698.6 388.7L700.8 384.3L705.3 381L710.8 377.7L715.2 378.8L719.6 374.4L724 371L730.6 370.6L734 373.2L732.9 378.8L736.2 382.1L741.7 386.5L745 383.2L747.2 376.6L749.4 369.3L751.6 373.2L753.8 379.9L755.4 386.5L759.4 393.1L762 400.8L766 405.3L767.1 411.9L765.5 418.5L762.7 425.1L758.2 430.6L753.8 436.2L748.3 440.6L743.9 443.9L738.4 446.1L732.9 447.2L727.3 446.1L724 445L724 439.5L720.7 435.1L719.2 438.4L716.3 436.2L714.8 430.6L710.8 427.3L704.2 426.2L697.5 428.4L690.9 430.6L684.3 432.9L677.7 436.2L672.1 436.2ZM728.4 453.8L734 451.6L736.8 452.7L735.1 457.1L730.6 459.8L726.7 458.9Z"/>
<path id="m-novayazemlya" class="c4" d="M488.5 142.6L489.3 144.3L491.9 144.1L494.3 144.7L497.5 145.9L500.1 145.9L500.3 145.8L500.4 145.6L500.3 145.4L498.4 143.5L495.3 141.7L494.8 139.4L496.5 137.1L498.4 135.2L501.4 133.4L505.8 131.8L506 131.6L505.9 131.3L505.3 130.4L505 130.3L500 131.6L494.8 133.5L492.9 135.4L490.4 138.6L488.5 142.4Z"/>
<path id="m-sevzemlya" class="c4" d="M540 123.5L543.8 123L548.8 124.5L555 126.4L552.5 127.6L547.5 126.4L542.5 125.1ZM556.9 127L561.9 127L565 128.3L560 128.9ZM532.5 120.8L537.5 121.4L540 122.6L536.2 123Z"/>
<path id="m-nsi" class="c4" d="M625.7 133.5L630.1 133.3L635.1 134.3L638.9 135.2L635.1 135.8L630.1 135.2ZM638.9 137.7L642.6 138.5L640.1 139.3ZM641.4 134.5L645.9 135.2L648.9 136L645.9 136.4Z"/>
<path id="m-thailand" class="c5" d="M637.9 283.9L637.9 287.1L639.2 290.9L640.4 294L641 297.7L642.3 300.8L642.3 304.5L641 311.4L641.6 314.6L643.6 317.3L648.6 321L648.9 321L650.1 320.4L650.3 320.2L650.2 320L647.7 317.5L644 312.5L642.8 310.8L644 308.4L645 304.6L645.3 300.9L646.2 299.9L647.4 301.7L649.5 302.3L649.7 302.1L650.3 298.5L652.6 297.3L655.7 296.7L657.1 294.7L657.1 294.4L655.9 291.3L654 288.8L651.4 287.4L651.2 287.4L648.2 288.6L645.9 286.9L645.3 283.9L643.3 281.8L643.1 281.8L640.5 282.4L638 283.7Z"/>
<path id="m-hainan" class="c4" d="M663.8 283.3L664.1 285.6L664.3 285.8L666.2 286.7L666.5 286.7L668.3 285.4L668.5 285.2L668.8 283.1L668.7 282.8L666.4 281.7L666.2 281.8L663.9 283Z"/>
<path id="m-philippines" class="c3" d="M692.8 286.4L692.8 290.2L693.1 293.3L694.8 296.7L696.6 298.6L698.5 299.9L699.7 301.7L700 301.9L700.3 301.8L702 301L704.7 301.2L705.5 299.7L705.5 299.4L705.2 299.1L703.3 298.5L700.9 297.9L699.2 296.2L698.1 293.2L698.7 290.1L698 286.9L697.8 286.7L696 285.4L695.6 285.3L693.1 286L692.9 286.1ZM694.6 299L695.4 301.7L697.3 303.6L697.5 303.7L697.8 303.7L699 303.1L699.3 302.8L699.2 302.5L698 300L697.8 299.8L695.3 298.5L695 298.5L694.7 298.7ZM699 302.1L699.6 305.3L701.2 307.3L701.6 307.5L701.9 307.3L703.3 305.8L704.8 306.8L706 308.6L706.2 308.7L706.5 308.7L706.7 308.6L708 306.7L708 306.3L707.4 303.8L707.2 303.5L704.7 302.3L702.1 301.4L699.4 301.6L699.1 301.8ZM701.5 314.4L700.9 316.3L700.9 316.6L701.1 316.8L703 318.1L703.4 318.1L705.1 317.5L706.7 318.1L707.8 320.4L708.1 320.6L710 321.2L710.3 321.2L710.5 321L711.8 318.4L712.1 315.2L712 315L710.3 312.3L707.8 311L707.4 311L704.9 312.3L701.7 314.2ZM704.7 303.4L705.9 309.4L706.1 309.7L706.4 309.7L708.3 309.4L708.7 309L709.3 305.9L709.3 305.6L708 303.1L707.6 302.8L705.1 302.8L704.7 303ZM701.5 307.8L702.4 311.5L702.6 311.8L703 311.9L704.6 311.2L704.9 311L704.9 310.8L704.5 307.6L704.4 307.3L704.1 307.2L702 307.2L701.6 307.4ZM688 315L689.2 315.6L689.6 315.6L689.8 315.4L692 312.3L694 309.2L695.5 306L695.5 305.7L695.4 305.5L694.8 304.9L694.4 304.7L694 305L693.2 306.8L691.6 309.3L687.8 314.3L687.8 314.7Z"/>
<path id="m-andaman" class="c4" d="M626.8 299.5L627.4 299.5L627.6 308.3L627 308.3Z"/>
<path id="m-kuril" class="c4" d="M733.2 195.3L732 200.1L729.5 206.3L725.1 212.6L725.6 212.6L730 206.4L732.5 200.2L733.7 195.3Z"/>
<path id="m-sumatra" class="c4" d="M634.1 322.6L636.1 326.4L651.7 348.3L654.8 352L657.4 354.6L657.7 354.7L660.4 354.6L660.5 354.4L661.4 350.6L661.8 346.2L661.7 345.9L659.2 343.4L656.7 339.7L641.6 324.6L637.6 322L634.5 322L634.3 322.1L634.1 322.3ZM659.8 343.1L660.3 345.6L662.2 345.9L662.6 345.8L662.7 345.5L662.4 343.6L662.2 343.3L660.3 342.7L660 342.7L659.8 342.8Z"/>
<path id="m-malaypen" class="c4" d="M646.1 319.8L649.9 327.5L652.4 330.7L655 333L655.2 333.1L657.1 332.7L657.3 332.5L657.3 332.3L656.1 329.2L654.8 325.4L652.9 322.2L649.6 320.2L646.5 319.6Z"/>
<path id="m-java" class="c4" d="M660.1 355.2L661.6 357.7L661.9 357.8L665.7 359.1L670.1 360.4L678.8 362.2L682.1 362.3L682.4 362.1L682.5 361.9L682.4 361.6L681.2 359.7L680.9 359.5L677.2 358.2L664 354.5L660.5 354.5L660.2 354.6L660.1 354.8Z"/>
<path id="m-sunda" class="c4" d="M682.3 361.3L682.7 362.5L683 362.8L687 363.2L692.1 363.5L697.1 363.5L702.1 363.2L707.1 362.8L707.4 362.7L707.5 362.4L707.5 361.2L707.4 360.9L707.1 360.8L697.1 361.4L692.1 361.4L687.1 361.2L682.7 360.8L682.4 360.9ZM692.9 364.3L692.9 365.8L693 366.1L693.3 366.2L696 366.6L696.3 366.5L696.5 366.3L696.8 365L696.8 364.7L696.5 364.5L693.4 363.9L693.1 364ZM703.6 365.5L704.2 367L704.5 367.2L704.8 367.2L707.5 365.7L707.7 365.4L707.7 365.2L707.2 363.9L707 363.7L706.7 363.7L703.8 364.9L703.6 365.2Z"/>
<path id="m-borneo" class="c4" d="M669 333.7L669.9 338.1L671.5 342.5L673 346.3L673.2 346.4L677 347.7L680.7 347.7L683.8 349.5L684 349.6L686.5 349L686.7 348.7L687.4 344.4L689.2 340L691.1 336.3L693.6 334.3L690.5 329.1L689.3 326.2L693.7 323.3L693.8 322.9L691 321.5L689.2 319.1L688.9 319L687.1 319L686.8 319.1L684.9 323.5L681.9 326.5L674.4 330.2L671.3 333.9L669.4 333.4L669.2 333.4Z"/>
<path id="m-sulawesi" class="c4" d="M695.4 336.6L694.1 339.8L693.5 344.2L694.1 348.1L693.9 352.4L694 352.8L695.5 354L695.9 354.1L696.2 353.9L697.8 351.8L698.1 348.2L698.9 347.1L699.8 349.5L701.7 352.6L703.4 353.5L703.7 353.5L704 353.3L704 353L703.8 349.9L701.9 346.6L700.8 343.3L702.9 342.8L705.4 341.6L705.6 341.3L705.6 341L705.5 340.8L703.6 339.5L703.2 339.5L700.4 340L699 338.7L701 337.5L704.7 337.2L708.2 335.9L708.5 335.6L709 333.8L709 333.4L708.7 333.2L708.4 333.2L705.7 334.5L702.1 335.1L698.4 334.5L698.1 334.5Z"/>
<path id="m-maluku" class="c4" d="M714.8 331.7L714.2 336.7L715.2 340L715.5 340.3L715.9 340.2L717.4 339L717.5 338.6L716.9 335.6L718.1 333.9L718.1 333.5L717.5 331L717.3 330.8L717 330.8L715.1 331.4ZM710.4 347.1L710.8 348.7L713.9 349.1L714.2 349L714.4 348.7L714.4 347.4L714.3 347.1L714 347L710.9 346.6L710.6 346.8ZM716.1 346.2L716.5 347.9L716.6 348.1L716.9 348.2L722.4 348.2L722.7 348L722.7 347.7L722.5 346.5L722.4 346.2L722.1 346.1L716.5 345.8L716.2 345.9ZM707.3 343L707.3 343.8L707.4 344.1L707.7 344.2L712.1 344.4L712.4 344.3L712.5 344L712.5 343.4L712.4 343.1L712.1 343L707.7 342.6L707.4 342.7Z"/>
<path id="m-papua" class="c4" d="M722.5 339.1L722.8 341.2L723 341.4L725.1 342.7L727.5 343.9L728.8 346.4L731.2 348.2L732.7 353.4L732.8 353.6L737.5 355.4L740.2 358.1L739.3 361.3L739.4 361.7L743.3 361.1L747.4 363L747.7 362.9L747.8 345.7L747.6 345.5L743.4 343L738.6 342.6L737.9 342.7L735.3 342.1L732.3 342.7L731.1 340.9L729 339L725.8 338.4L722.7 339Z"/>
<path id="m-india" class="c4" d="M573.8 241.9L576.9 240.6L580 239.4L583.2 237.5L585.7 238.1L587.8 239.8L586 243.8L584.5 246.9L586.9 249.4L590 252.5L592.5 253.8L597.6 256.3L602.6 258.8L607.6 260.7L610.7 261.9L613.8 261.9L618.2 261.3L620.7 259.4L623.2 256.9L627 255.6L630.1 257.5L628.8 260.7L627 263.8L625.7 267.5L624.5 271.3L623.2 273.8L622 271.3L621.1 266.9L620.1 264.4L617.6 264.4L615.1 265L613.8 266.9L614.4 271.3L615.1 275L613.8 276.5L610.1 279.4L607.6 283.2L603.2 287.6L598.8 291.3L596.3 295.1L595.1 303.9L593.1 311.4L590.6 315.2L588.1 311.4L585.1 303.9L581.9 297.6L579.4 290.1L576.9 282.6L575 276.9L573.8 277.8L571.3 278.8L567.5 275.7L565 273.2L565.6 271.3L570 270.7L570.6 267.5L567.5 265L566.9 261.9L570.6 259.4L573.8 255.6L576.3 251.3L578.8 246.9L575.6 245Z"/>
<path id="m-svalbard" class="c1" d="M416.3 126.8L422.5 125.5L430 125.1L440 125.1L436.3 127L437.5 129.5L432.5 128.9L427.5 131.4L423.8 130.1L420 128.3Z"/>
<path id="m-fjl" class="c4" d="M468.2 124.3L475.1 123.5L477.6 124.5L472.6 125.3ZM480.1 123.9L486.4 122.6L492.6 123.5L497.6 123.5L492.6 124.5L486.4 125.3L481.3 125.1Z"/>
<path id="m-lesotho" class="nd" d="M464.6 419.6L467.6 418.3L469.3 420.8L466.8 423.8L463.8 422.6Z"/>
<path id="m-swaziland" class="nd" d="M473.8 411.1L476.3 411.1L476.6 414.6L474.1 414.6Z"/>
<path id="m-nkorea" class="nd" d="M683.3 226.8L685.3 228.7L686.4 230.3L687.6 231.5L687.9 231.6L690 231.5L691.3 230.2L690.6 228.6L691.6 227.6L691.7 227.3L691.3 225.9L693.6 223.7L693.6 223.4L693.3 221.1L693.9 219.2L693.8 218.9L692.6 217.6L690.8 219L688.5 220.4L684.5 224.4L683.3 226.4Z"/>
<path id="m-nepal" class="nd" d="M590.7 252.5L592.5 251.9L597.6 254L602.6 256.5L607.6 258.5L610.7 259.8L611.6 264.4L608.8 264L603.8 262L598.8 260.2L593.8 258.2L590 255.6Z"/>
<path id="m-bhutan" class="nd" d="M612.8 259.4L618.2 258.5L621.1 259.4L620.3 262.3L615.1 262.8L612.6 261.5Z"/>
<path id="m-bangladesh" class="nd" d="M613.8 264.4L617.6 264L620.1 264.8L621.1 267.5L622 271.5L623.2 274L620.7 275.7L617.6 275L615.1 273.2L614.1 268.8Z"/>
<path id="m-hudson-bay" class="w" d="M211.3 173.8L215.1 168.8L222.6 163.8L231.4 161.3L236.4 158.8L240.1 160.1L245.1 163.8L247.6 167.6L245.1 172.6L243.9 177.6L240.1 181.3L235.1 183.8L232.6 187.6L233.1 192.6L230.1 195.1L227.1 192.6L228.1 186.3L223.8 183.8L217.6 180.6L212.6 178.8Z"/>
<path id="m-gbear" class="w" d="M167 157.1L173.8 155.1L180 154.6L177.5 157.1L171.3 158.8Z"/>
<path id="m-gslave" class="w" d="M170 168.8L177.5 166.3L188.8 163.8L183.8 166.6L176.3 169.1Z"/>
<path id="m-winnipeg" class="w" d="M191.3 188.8L193.8 187.1L194.1 192.6L192.1 196.4L190.8 193.1Z"/>
<path id="m-superior" class="w" d="M193.8 201.4L198.8 203.1L205.6 202.6L211.3 202.1L213.1 205.1L207.6 207.1L201.3 207.6L197.1 205.6Z"/>
<path id="m-michigan" class="w" d="M205.6 208.9L208.8 210.1L207.1 215.1L203.8 219.6L201.3 220.1L202.6 213.9Z"/>
<path id="m-huron" class="w" d="M211.3 206.4L217.6 208.1L221.3 211.4L218.8 213.9L215.1 215.1L213.1 211.4Z"/>
<path id="m-erie" class="w" d="M213.8 218.1L220.1 216.4L223.8 213.9L221.3 217.6L215.1 220.1Z"/>
<path id="m-ontario" class="w" d="M223.8 213.9L228.9 212.1L230.1 213.9L225.1 215.6Z"/>
<path id="m-blacksea" class="w" d="M462.5 217.5L463.8 213.8L465.6 210.6L468.1 208.8L471.3 209.4L473.8 211.9L476.3 210.6L478.2 208.1L481.9 206.9L484.4 205.6L483.2 208.8L481.3 211.3L483.2 213.8L486.3 215.6L491.3 217.5L495 218.8L498.2 220L499.4 221.9L496.3 221.9L492.5 221.5L488.8 221L485 221.9L480 220.7L476.3 220L472.5 220.7L468.8 221.9L465 221.3L462.8 220Z"/>
<path id="m-caspian" class="w" d="M504.8 210L506.9 207.5L511.3 206.5L515.7 206.9L515.3 209.4L512.6 210.6L510.7 212.5L511.3 215L513.8 217.5L516.3 220L518.2 221.9L520.7 225L522.6 228.8L522.8 231.9L520.1 232.5L516.9 231.3L514.4 229.4L513.8 226.3L514.4 223.8L511.9 221.9L510.1 219.4L508.2 216.3L506.9 213.8L505.1 212.5Z"/>
<path id="m-whitesea" class="w" d="M459.8 154L463.1 154.4L466.9 155.4L470.7 156.7L473.8 156.3L475.7 155L477.8 155L476.9 156.9L475 158.5L472.3 158.2L470 158.5L471.9 160.7L470 161.5L466.9 159.8L463.8 158.4L461.3 156.5Z"/>
<path id="m-ladoga" class="w" d="M458.1 168.8L460 167.3L462.5 168.8L463.8 170.7L461.9 171.5L459.4 170.7Z"/>
<path id="m-parry" class="w" d="M195 136.5L200 135.6L207.5 136.3L213.8 136.9L220 136.3L226.3 136.9L232.5 135.6L240.1 136.3L247.6 136.9L253.8 137.5L261.3 137.5L268.8 136.3L269.5 138.8L265.1 139.4L260.1 138.8L253.8 139L247.6 138.8L242.6 139.4L237.6 138.2L232.5 137.8L227.5 138.5L222.5 138.2L217.5 139L212.5 138.5L205 138.2L198.8 137.8L195 137.8Z"/>
<path id="m-qegaps" class="w" d="M225.7 128.1L228.8 128.8L229.4 131.3L227.5 133.8L224.4 133.8L225.7 131.3ZM245.1 127.5L248.8 127.3L250.7 128.8L248.8 130.6L250.7 133.8L247.6 133.8L245.7 131.9L247.6 129.8ZM253.8 130L260.1 131.5L265.1 132.8L270.1 131.5L275.1 129.8L270.1 130.3L265.1 131.3L260.1 130.3ZM207.5 132.5L212.5 131.9L217.5 132.3L212.5 133.3ZM232.5 130.6L237.6 129.8L242.6 130.6L237.6 131.9Z"/>
<path id="m-mcclintock" class="w" d="M218.2 139.4L221.9 140L223.8 143.8L223.2 148.2L224.4 151.3L221.9 152.5L219.4 149.4L216.9 148.8L218.8 146.3L216.9 144.4L218.2 141.9Z"/>
<path id="m-boothia" class="w" d="M238.8 138.8L243.2 140L243.2 143.2L245.1 145L250.1 146.3L251.9 148.5L250.1 149L245.1 151.3L241.3 153.2L238.2 155.7L235 155L238.8 152.5L237.6 150L235 147.8L232.5 145.7L235 143.2L237.6 141.3Z"/>
<path id="m-foxe" class="w" d="M251.9 148.8L255.1 147.3L258.8 149L262.6 150.3L266.3 151.5L263.8 154L257.6 156L253.2 158.8L256.3 159.8L253.8 161.9L250.7 163.2L248.8 160.7L245.1 158.2L247.6 155.3L251.3 152.8L253.8 150.3Z"/>
<path id="m-hudsonstrait" class="w" d="M250.7 163.8L253.8 163.2L257.6 161.6L261.3 158.8L265.1 159.8L268.8 162.8L272.6 165.3L270.1 166.3L266.3 165.1L263.2 164.4L261.3 167.6L260.1 171.9L258.2 166.9L253.8 164.8L250.1 165.1ZM262.6 173.8L265.1 170.1L268.8 170.7L270.1 173.8L267 176.3L263.8 176.3Z"/>
<path id="m-coronation" class="w" d="M195 151.3L200 152.5L201.3 150.7L207.5 150.7L215 150L220 150.7L223.8 151.9L227.5 153.2L223.8 152.5L217.5 151.5L210 152L202.5 152.3L200 154L195 153.2Z"/>
<path id="m-amundsen" class="w" d="M180 147.5L186.3 145L193.8 147L195.6 150L191.3 152L187.6 149.5L182.6 150Z"/>
<path id="m-lvictoria" class="w" d="M478.1 338.6L482 338.1L483.4 341.6L481.1 344.3L478.1 343.4Z"/>
<path id="m-bohai" class="w" d="M669 228.5L671.8 227.8L672.9 225L674.9 223.4L676.9 224.2L676.5 227.4L677.7 229.3L677.9 230.9L676.5 231.7L674.9 233.6L673.3 231.7L671 230.1Z"/>
<path id="m-amazonmouth" class="w" d="M273.1 339.5L276 338.7L277.8 341L275 341.9ZM278.8 340.1L281.1 339.5L280.7 342.5L278.4 342.9Z"/>
<path id="m-turkey" class="c4" d="M459.4 224.4L460.6 221.9L464.4 221.5L468.8 222.2L473.8 220.9L480 220.9L486.3 222.2L492.5 222.2L497.6 223.2L499.4 225L500.1 228.2L500.7 231.9L498.8 233.2L495 232.5L491.3 233.2L487.5 233.8L484.4 234.8L481.3 234.4L478.2 236L475 235.7L471.9 234.4L468.8 235.7L465.6 234L462.5 232.5L460.6 230L459.8 227.3ZM460 221.5L462.5 220.7L464 221.5L461.3 222.8Z"/>
<path id="m-iran" class="c2" d="M501.3 228.2L503.2 229.4L505.1 231.3L507.6 230L508.8 228.2L510.1 231.3L513.8 232.5L517.6 233.8L521.3 234.4L525.1 232.5L528.8 231.3L533.2 231.9L537 233.8L540.1 236.9L540.7 240.7L542 245.1L543.9 248.8L545.1 251.9L543.2 255.1L545.7 257.6L548.9 260.1L550.1 261.9L547.6 264.4L547 267.3L543.8 266.9L540.1 266.3L536.3 265L534.5 262.3L532.6 263.5L528.2 263.2L524.4 260.7L521.3 258.2L518.2 255L515.1 253.1L513.2 250L510 245.6L507.5 242.5L506.3 238.8L505.1 237.6L503.2 233.8L501.9 230.7Z"/>
<path id="m-saudi" class="c2" d="M482.5 257.3L485 255L488.8 252.5L490.6 249.8L493.8 249.4L497.5 250.6L501.3 252.5L505 254.4L508.8 255.6L511.9 256.9L514.4 258.8L516.9 261.9L519.4 265L521.9 268.2L523.8 271.3L525.7 273.2L528.8 274L531.9 274.8L532.6 277.6L531.9 280.7L528.8 282.6L525.1 284.1L520.1 285.1L515.7 286.3L514.4 288.2L510 288.8L505.7 289.1L503.5 290.7L501.3 288.2L499.4 285.1L496.9 281.9L494.4 278.2L491.9 273.8L489.4 269.4L486.9 265L484.4 260.7Z"/>
<path id="m-oman" class="c2" d="M534.5 270L536.3 271.3L539.5 272.5L542.6 274.4L543.6 276.3L541.3 279.4L539.5 282.6L538.2 285.7L535.1 288.2L531.9 290.1L528.8 290.7L526.9 285.7L529.4 284.1L532.3 281.1L533.2 277.6L532.6 274.8L533.8 272.5Z"/>
<path id="m-qatar" class="c5" d="M521.3 265.7L522.6 264.8L523.6 266.3L523.2 268.5L521.9 268.8Z"/>
<path id="m-kuwait" class="c1" d="M511.9 254L513.8 253.5L514.6 255.6L512.8 256.5Z"/>
<path id="m-skorea" class="c5" d="M691.4 231.7L691.7 233.8L693.8 238.1L694.7 240.6L696.3 241.6L696.6 241.6L698.9 241L700.6 239.8L700.8 239.5L700.3 237.4L699.1 235L697.5 232.6L695.5 231L693.4 230.4L693.2 230.4L691.6 231.4ZM695.4 243.8L695.5 244.9L695.7 245L696.9 245L697.1 244.9L697.2 244.6L697.1 243.6L696.9 243.5L695.7 243.5L695.5 243.6Z"/>
<path id="m-borneoborder" class="line" d="M671 334L674.6 334.9L679.6 333.6L683.3 331.1L685.8 327.4L687.1 325.5L690.8 324.9"/>
<path id="m-naborders" class="line" d="M146.4 148L121.4 170.8L123.9 171.6L128.9 172.6L131.9 177.6L131.2 185.1L130.2 193.8L132.7 200.9M132.2 201.4L194 200.9L197.7 203.1M123.8 247.1L137.5 251.3L146.3 250.6L148.8 253.8L153.8 256.3L157.6 255.1L161.3 260.6L164.6 265.6"/>
<path id="m-chinaborders" class="line" d="M693 217.6L692.2 215.2L690.2 213.2L691 212.5L693.7 210.9L691.5 216.3L693.2 210L691.5 205L687.7 201.3L680.2 197.5L670.2 192.5L660.2 188.8L653.9 190L652.7 195M590.1 200.5L595.1 197.5L601.4 196.3L607.6 193.8L615.1 195L622.7 197.5L630.2 198.8L637.7 197.5L645.2 197.5L652.7 195.5L656.4 198.8L660.2 203.8L662.7 207.5L656.4 210L650.2 213.8L642.7 217.5L635.2 219.5L626.4 218.8L617.7 217.5L610.1 215L602.6 211.3L596.4 207.5L590.1 203.8L590.1 200.5M586.4 200.5L583.9 205L580.1 210L580.6 215L576.4 220L572.6 223.8L570.1 227.6L573.8 232.6L577.6 236.3L581.4 238.8L584.6 238.1"/>
<path id="m-baikal" class="line" d="M626.5 183L625.6 185.5L624.3 189L622.5 194"/>
</svg>
<div class="rule" id="bot"></div>
</body></html>
